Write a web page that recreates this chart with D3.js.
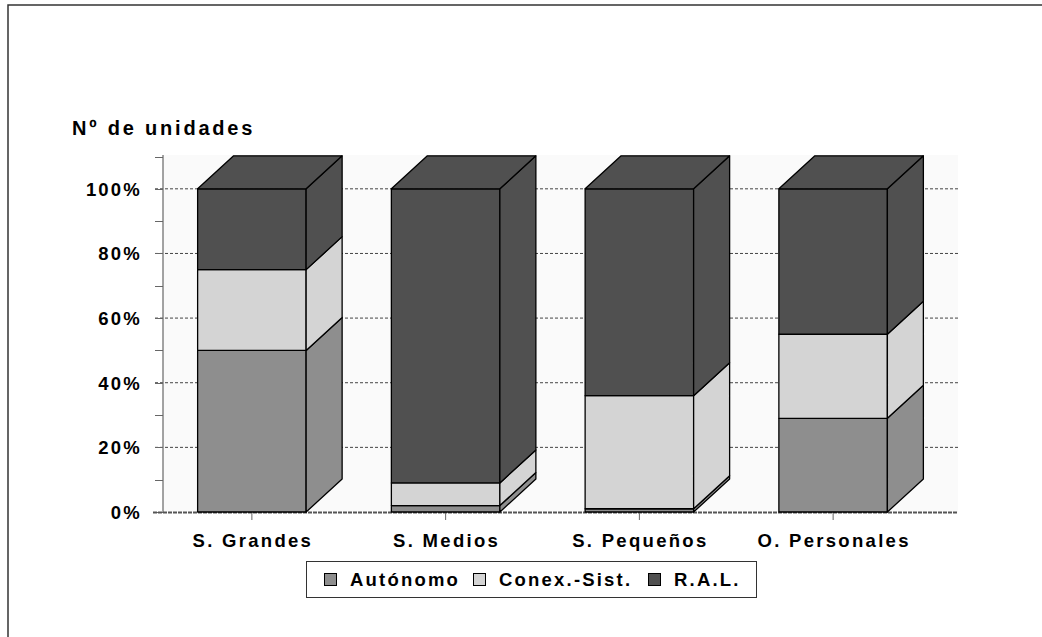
<!DOCTYPE html>
<html>
<head>
<meta charset="utf-8">
<script src="https://cdn.jsdelivr.net/npm/d3@7"></script>
<style>
  body { margin: 0; background: #fff; }
  text { font-family: "Liberation Sans", Arial, sans-serif; font-weight: bold; fill: #000; }
</style>
</head>
<body>
<div id="chart"></div>
<script>
// data (percent of units)
var categories = ["S. Grandes", "S. Medios", "S. Pequeños", "O. Personales"];
var seriesNames = ["Autónomo", "Conex.-Sist.", "R.A.L."];
var autonomo = [50, 2, 1, 29];
var conex = [25, 7, 35, 26];
var ral = [25, 91, 64, 45];
var yTickValues = [0, 20, 40, 60, 80, 100];
var yMinorValues = [0, 10, 20, 30, 40, 50, 60, 70, 80, 90, 100, 110];

var colors = ["#8e8e8e", "#d4d4d4", "#505050"];

var W = 1042, H = 637;
var plot = { left: 163, right: 958, top: 155, bottom: 512 };
var depthX = 36, depthY = 33;

var svg = d3.select("#chart").append("svg")
  .attr("width", W).attr("height", H);

// outer frame (cut off at right/bottom like the source)
svg.append("rect")
  .attr("x", 8).attr("y", 5)
  .attr("width", 1200).attr("height", 800)
  .attr("fill", "none").attr("stroke", "#333").attr("stroke-width", 1.5);

var y = d3.scaleLinear().domain([0, 110]).range([plot.bottom, plot.top + 1.5]);
var x = d3.scaleBand().domain(categories).range([155, 930]).paddingInner(0).paddingOuter(0);
var barW = x.bandwidth() * 0.56;

// back wall
svg.append("rect")
  .attr("x", plot.left).attr("y", plot.top)
  .attr("width", plot.right - plot.left).attr("height", plot.bottom - plot.top)
  .attr("fill", "#fafafa");

// gridlines
svg.selectAll(".grid")
  .data(yTickValues.filter(function (d) { return d > 0; }))
  .enter().append("line")
  .attr("x1", 155).attr("x2", plot.right)
  .attr("y1", function (d) { return y(d); })
  .attr("y2", function (d) { return y(d); })
  .attr("stroke", "#444").attr("stroke-width", 1)
  .attr("stroke-dasharray", "3,2");

// y axis line + minor ticks
svg.append("line")
  .attr("x1", plot.left).attr("x2", plot.left)
  .attr("y1", plot.top).attr("y2", plot.bottom)
  .attr("stroke", "#666").attr("stroke-width", 1.2);
svg.selectAll(".ytick")
  .data(yMinorValues)
  .enter().append("line")
  .attr("x1", 155).attr("x2", plot.left)
  .attr("y1", function (d) { return Math.round(y(d)) + 0.5; })
  .attr("y2", function (d) { return Math.round(y(d)) + 0.5; })
  .attr("stroke", "#666").attr("stroke-width", 1);

// y labels
svg.selectAll(".ylab")
  .data(yTickValues)
  .enter().append("text")
  .attr("x", 142)
  .attr("y", function (d) { return y(d) + 7; })
  .attr("text-anchor", "end")
  .style("font-size", "18.5px")
  .style("letter-spacing", "2.2px")
  .text(function (d) { return d + "%"; });

// x axis (dashed dark line)
svg.append("line")
  .attr("x1", 153).attr("x2", plot.right)
  .attr("y1", plot.bottom + 0.5).attr("y2", plot.bottom + 0.5)
  .attr("stroke", "#555").attr("stroke-width", 2)
  .attr("stroke-dasharray", "4,1");

// category ticks + labels
svg.selectAll(".xtick")
  .data(categories)
  .enter().append("line")
  .attr("x1", function (d) { return x(d) + x.bandwidth() / 2; })
  .attr("x2", function (d) { return x(d) + x.bandwidth() / 2; })
  .attr("y1", plot.bottom).attr("y2", plot.bottom + 8)
  .attr("stroke", "#666");
svg.selectAll(".xlab")
  .data(categories)
  .enter().append("text")
  .attr("x", function (d) { return x(d) + x.bandwidth() / 2 + 1; })
  .attr("y", 547)
  .attr("text-anchor", "middle")
  .style("font-size", "18.5px")
  .style("letter-spacing", "2.3px")
  .text(function (d) { return d; });

// stacked 3d bars
var rows = categories.map(function (c, i) {
  return { cat: c, a: autonomo[i], b: conex[i], c: ral[i] };
});
var stack = d3.stack().keys(["a", "b", "c"])(rows);

var bars = svg.append("g");
categories.forEach(function (cat, i) {
  var x0 = x(cat) + (x.bandwidth() - barW) / 2;
  stack.forEach(function (layer, k) {
    var seg = layer[i];
    if (seg[1] - seg[0] <= 0) return;
    var yb = y(seg[0]), yt = y(seg[1]);
    var g = bars.append("g")
      .attr("fill", colors[k]).attr("stroke", "#000").attr("stroke-width", 1.3)
      .attr("stroke-linejoin", "round");
    g.append("rect")
      .attr("x", x0).attr("y", yt)
      .attr("width", barW).attr("height", yb - yt);
    g.append("polygon")
      .attr("points", [
        [x0 + barW, yb], [x0 + barW + depthX, yb - depthY],
        [x0 + barW + depthX, yt - depthY], [x0 + barW, yt]
      ].join(" "));
    if (k === stack.length - 1) {
      g.append("polygon")
        .attr("points", [
          [x0, yt], [x0 + depthX, yt - depthY],
          [x0 + barW + depthX, yt - depthY], [x0 + barW, yt]
        ].join(" "));
    }
  });
});

// title
svg.append("text")
  .attr("x", 72).attr("y", 135)
  .style("font-size", "20px")
  .style("letter-spacing", "2.8px")
  .text("Nº de unidades");

// legend
var legend = svg.append("g");
legend.append("rect")
  .attr("x", 306.5).attr("y", 561.5)
  .attr("width", 450).attr("height", 36)
  .attr("fill", "#fff").attr("stroke", "#333").attr("stroke-width", 1);
var legendX = [324, 473, 648];
seriesNames.forEach(function (name, k) {
  legend.append("rect")
    .attr("x", legendX[k] + 0.5).attr("y", 573.5)
    .attr("width", 12).attr("height", 12)
    .attr("fill", colors[k]).attr("stroke", "#000").attr("stroke-width", 1);
  legend.append("text")
    .attr("x", legendX[k] + 26).attr("y", 586)
    .style("font-size", "18.5px")
    .style("letter-spacing", "2.2px")
    .text(name);
});
</script>
</body>
</html>
